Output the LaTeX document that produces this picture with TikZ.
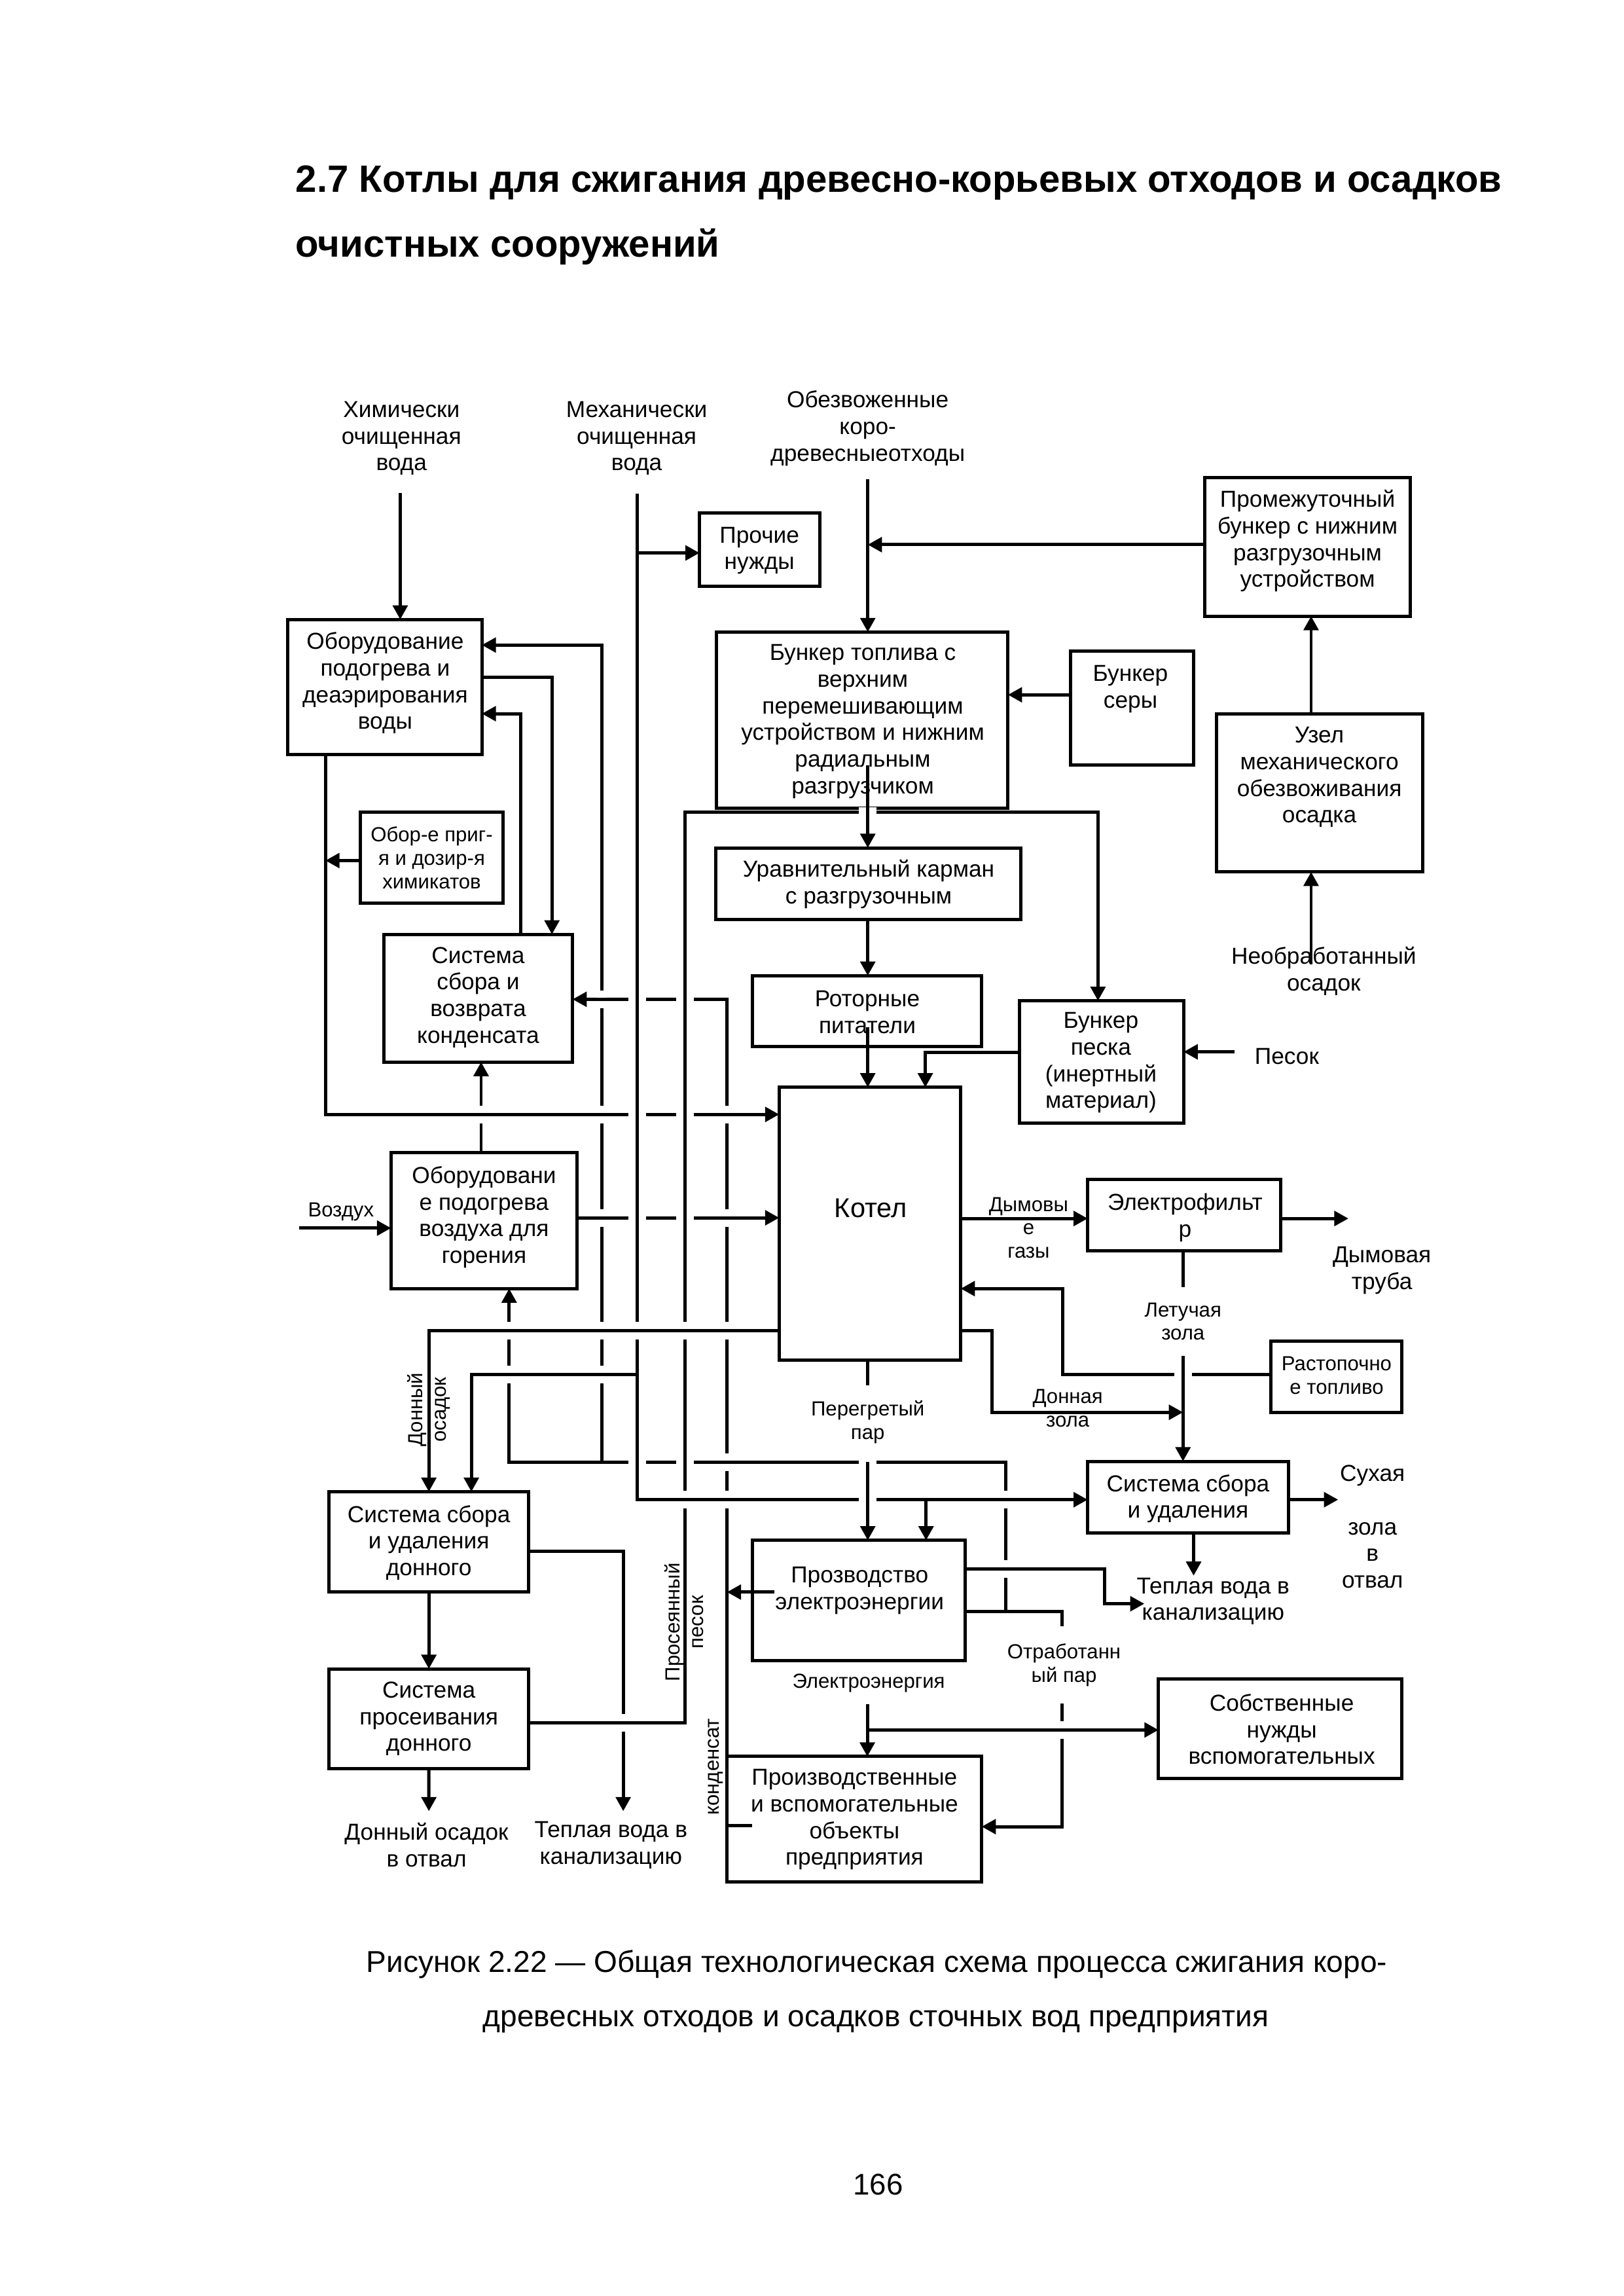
\documentclass[tikz,border=0pt]{standalone}
\usepackage{fontspec}
\setmainfont{Liberation Sans}
\usetikzlibrary{arrows.meta}
\newcommand{\gapv}[2]{%
  \fill[white] ({#1-3},{#2-6}) rectangle ({#1+3},{#2+6});
  \draw[ln] ({#1-7},#2) -- ({#1+7},#2);}
\newcommand{\gaph}[2]{%
  \fill[white] ({#1-6},{#2-3}) rectangle ({#1+6},{#2+3});
  \draw[ln] (#1,{#2-7}) -- (#1,{#2+7});}
\newcommand{\mkbox}[5]{%
  \node[box, minimum width={(#4-#2)*0.190909mm}, minimum height={(#5-#3)*0.190909mm}] (#1) at ({(#2+#4)/2},{(#3+#5)/2}) {};}
\begin{document}
\begin{tikzpicture}[x=0.190909mm, y=-0.190909mm,
  ln/.style={line width=1.2pt},
  arr/.style={line width=1.2pt, -{Triangle[length=5.2pt,width=5.4pt]}},
  box/.style={draw, line width=1.2pt, inner sep=0pt, outer sep=0pt},
  bt/.style={font=\fontsize{8.5}{9.8}\selectfont, align=center, inner sep=0pt},
  st/.style={font=\fontsize{7.5}{8.6}\selectfont, align=center, inner sep=0pt},
  wl/.style={st, fill=white, inner xsep=1pt}]
\useasboundingbox (0,0) rectangle (1100,1555.5);
\fill[white] (0,0) rectangle (1100,1555.5);

% ---------- title ----------
\node[anchor=base west, inner sep=0pt, font=\bfseries\fontsize{14}{24}\selectfont] (title1) at (200,130) {2.7 Котлы для сжигания древесно-корьевых отходов и осадков};
\node[anchor=base west, inner sep=0pt, font=\bfseries\fontsize{14}{24}\selectfont] (title2) at (200,174) {очистных сооружений};

% ---------- boxes ----------
\mkbox{b1}{195}{419.7}{326.5}{511.3}
\mkbox{prochie}{474}{347.7}{555.6}{397.4}
\mkbox{promb}{816.4}{323.7}{955.5}{417.4}
\mkbox{fuelb}{485.4}{428.2}{683}{547.7}
\mkbox{sera}{725.4}{441.3}{808.6}{518.3}
\mkbox{uzel}{824.5}{483.6}{964}{590.7}
\mkbox{urav}{485}{574.4}{691.5}{623}
\mkbox{chem}{244}{550}{341}{612}
\mkbox{kond}{260}{633}{388}{719.5}
\mkbox{rotor}{510}{661}{665}{709}
\mkbox{sand}{690.7}{678}{802}{761}
\mkbox{kotel}{528}{736.6}{651}{921.5}
\mkbox{air}{265}{781}{391}{873}
\mkbox{efilter}{737}{799}{867.6}{847.5}
\mkbox{rast}{861}{908.5}{950}{956.8}
\mkbox{dry}{737}{990}{873}{1038.6}
\mkbox{donn}{222.9}{1010.6}{358.3}{1078.6}
\mkbox{pros}{222.9}{1130.6}{358.3}{1198}
\mkbox{power}{510}{1043.5}{654}{1125}
\mkbox{sobst}{785}{1137.3}{950}{1205}
\mkbox{proizv}{492.6}{1190}{665.2}{1275}

% ---------- box texts ----------
\node[bt] (b1-t) at (261,462.8) {Оборудование\\подогрева и\\деаэрирования\\воды};
\node[bt] (prochie-t) at (514.6,373) {Прочие\\нужды};
\node[bt] (promb-t) at (886,366.5) {Промежуточный\\бункер с нижним\\разгрузочным\\устройством};
\node[bt] (fuelb-t) at (584.6,488.8) {Бункер топлива с\\верхним\\перемешивающим\\устройством и нижним\\радиальным\\разгрузчиком};
\node[bt] (sera-t) at (766,466.7) {Бункер\\серы};
\node[bt] (uzel-t) at (894,526.6) {Узел\\механического\\обезвоживания\\осадка};
\node[bt] (urav-t) at (588.6,598.9) {Уравнительный карман\\с разгрузочным};
\node[st] (chem-t) at (292.5,581.1) {Обор-е приг-\\я и дозир-я\\химикатов};
\node[bt] (kond-t) at (324,675.7) {Система\\сбора и\\возврата\\конденсата};
\node[bt] (rotor-t) at (587.7,685.8) {Роторные\\питатели};
\node[bt] (sand-t) at (746,720) {Бункер\\песка\\(инертный\\материал)};
\node[inner sep=0pt, font=\fontsize{10}{12}\selectfont] (kotel-t) at (590,818.6) {Котел};
\node[bt] (air-t) at (328,824.6) {Оборудовани\\е подогрева\\воздуха для\\горения};
\node[bt] (efilter-t) at (803,824.8) {Электрофильт\\р};
\node[st] (rast-t) at (905.7,931.7) {Растопочно\\е топливо};
\node[bt] (dry-t) at (805,1015.4) {Система сбора\\и удаления};
\node[bt] (donn-t) at (290.6,1045.2) {Система сбора\\и удаления\\донного};
\node[bt] (pros-t) at (290.6,1164.5) {Система\\просеивания\\донного};
\node[bt] (power-t) at (582.5,1077.6) {Прозводство\\электроэнергии};
\node[bt] (sobst-t) at (868.5,1171.5) {Собственные\\нужды\\вспомогательных};
\node[bt] (proizv-t) at (579,1232.8) {Производственные\\и вспомогательные\\объекты\\предприятия};

% ---------- free labels ----------
\node[bt] (in-chem) at (272,297) {Химически\\очищенная\\вода};
\node[bt] (in-mech) at (431.4,297) {Механически\\очищенная\\вода};
\node[bt] (in-fuel) at (588,290.2) {Обезвоженные\\коро-\\древесныеотходы};
\node[bt] (in-neob) at (897,658) {Необработанный\\осадок};
\node[bt] (in-pesok) at (872,715.5) {Песок};
\node[st] (in-air) at (231,821) {Воздух};
\node[st] (l-gas) at (697,831.7) {Дымовы\\е\\газы};
\node[bt] (out-pipe) at (936.4,860.7) {Дымовая\\труба};
\node[st] (l-dzola) at (723.5,954) {Донная\\зола};
\node[bt] (out-dry) at (930,1034.4) {Сухая\\\mbox{}\\зола\\в\\отвал};
\node[bt] (out-warm2) at (822,1084.8) {Теплая вода в\\канализацию};
\node[st] (l-elen) at (588.6,1140.4) {Электроэнергия};
\node[st, rotate=90] (l-dosad) at (290.5,955) {Донный\\осадок};
\node[st, rotate=90] (l-prpes) at (463.5,1099) {Просеянный\\песок};
\node[st, rotate=90] (l-kond) at (484.8,1197) {конденсат};
\node[bt] (out-dosad) at (289,1250) {Донный осадок\\в отвал};
\node[bt] (out-warm1) at (414,1250) {Теплая вода в\\канализацию};

% ---------- coordinates ----------
\coordinate (chemtop) at (271.2,334);
\coordinate (mtop) at (431.6,334.4);
\coordinate (mpro) at (431.6,374.6);
\coordinate (m931) at (431.6,931);
\coordinate (mbot) at (431.6,1016);
\coordinate (m931l) at (319.4,931);
\coordinate (m627) at (627.5,1016);
\coordinate (ftop) at (588,324.8);
\coordinate (f369) at (588,369);
\coordinate (s470) at (0,470.7);
\coordinate (ux) at (888.4,0);
\coordinate (neob) at (888.4,653.4);
\coordinate (f518) at (588,518.7);
\coordinate (f696) at (588,696);
\coordinate (p1) at (464,1167);
\coordinate (p2) at (464,550);
\coordinate (p3) at (744,550);
\coordinate (pes) at (836.6,712.6);
\coordinate (s1) at (627,713);
\coordinate (l1) at (220.5,755);
\coordinate (l583) at (220.5,583);
\coordinate (k1) at (374,458.7);
\coordinate (k2) at (352.7,483.5);
\coordinate (c1) at (492.6,677);
\coordinate (c2) at (524.5,1078.6);
\coordinate (c3) at (509.7,1237);
\coordinate (e1) at (719.5,1091.6);
\coordinate (e2) at (719.5,1237.5);
\coordinate (e3) at (681.5,1091.6);
\coordinate (e4) at (681.5,990.5);
\coordinate (e5) at (345,990.5);
\coordinate (e6) at (407.7,990.5);
\coordinate (e7) at (407.7,437);
\coordinate (a1) at (326,0);
\coordinate (a2) at (202.5,832);
\coordinate (a3) at (0,825);
\coordinate (d1) at (290.6,901.5);
\coordinate (g1) at (0,825.5);
\coordinate (g2) at (913.7,825.5);
\coordinate (fa) at (801.6,0);
\coordinate (z1) at (672,901.5);
\coordinate (z2) at (672,956.8);
\coordinate (z3) at (801.6,956.8);
\coordinate (r1) at (720,931);
\coordinate (r2) at (720,873);
\coordinate (st1) at (588,0);
\coordinate (dr1) at (906.7,1016);
\coordinate (dr2) at (808.8,1067.5);
\coordinate (w1) at (748.3,1063);
\coordinate (w2) at (748.3,1086.5);
\coordinate (w3) at (775.4,1086.5);
\coordinate (el1) at (587.7,1154.4);
\coordinate (el2) at (587.7,1172);
\coordinate (dw1) at (422.3,1051);
\coordinate (dw2) at (422.3,1227);
\coordinate (pr1) at (290.6,1227);

% ---------- connectors ----------
\draw[arr] (chemtop) -- (chemtop |- b1.north);
\draw[arr] (mtop) -- (mbot) -- (dry.west |- mbot);
\draw[arr] (mpro) -- (prochie.west |- mpro);
\draw[arr] (m931) -- (m931l) -- (m931l |- donn.north);
\draw[arr] (m627) -- (m627 |- power.north);
\draw[arr] (ftop) -- (ftop |- fuelb.north);
\draw[arr] (promb.west |- f369) -- (f369);
\draw[arr] (sera.west |- s470) -- (fuelb.east |- s470);
\draw[arr] (uzel.north -| ux) -- (promb.south -| ux);
\draw[arr] (neob) -- (uzel.south -| neob);
\draw[arr] (f518) -- (urav.north -| f518);
\draw[arr] (urav.south -| f518) -- (rotor.north -| f518);
\draw[arr] (f696) -- (kotel.north -| f696);
\draw[arr] (pros.east |- p1) -- (p1) -- (p2) -- (p3) -- (p3 |- sand.north);
\draw[arr] (pes) -- (sand.east |- pes);
\draw[arr] (sand.west |- s1) -- (s1) -- (s1 |- kotel.north);
\draw[arr] (b1.south -| l1) -- (l1) -- (kotel.west |- l1);
\draw[arr] (chem.west |- l583) -- (l583);
\draw[arr] (b1.east |- k1) -- (k1) -- (k1 |- kond.north);
\draw[arr] (kond.north -| k2) -- (k2) -- (b1.east |- k2);
\draw[arr] (proizv.north west) -- (c1) -- (kond.east |- c1);
\draw[arr] (c2) -- (c1 |- c2);
\draw[ln] (proizv.west |- c3) -- (c3);
\draw[arr] (power.east |- e1) -- (e1) -- (e2) -- (proizv.east |- e2);
\draw[arr] (e3) -- (e4) -- (e5) -- (e5 |- air.south);
\draw[arr] (e6) -- (e7) -- (b1.east |- e7);
\draw[arr] (air.north -| a1) -- (kond.south -| a1);
\draw[arr] (a2) -- (air.west |- a2);
\draw[arr] (air.east |- a3) -- (kotel.west |- a3);
\draw[arr] (kotel.west |- d1) -- (d1) -- (d1 |- donn.north);
\draw[arr] (kotel.east |- g1) -- (efilter.west |- g1);
\draw[arr] (efilter.east |- g1) -- (g2);
\draw[arr] (efilter.south -| fa) -- (dry.north -| fa);
\draw[arr] (kotel.east |- z1) -- (z1) -- (z2) -- (z3);
\draw[arr] (rast.west |- r1) -- (r1) -- (r2) -- (kotel.east |- r2);
\draw[arr] (kotel.south -| st1) -- (power.north -| st1);
\draw[arr] (dry.east |- dr1) -- (dr1);
\draw[arr] (dry.south -| dr2) -- (dr2);
\draw[arr] (power.east |- w1) -- (w1) -- (w2) -- (w3);
\draw[arr] (el1) -- (proizv.north -| el1);
\draw[arr] (el2) -- (sobst.west |- el2);
\draw[arr] (donn.east |- dw1) -- (dw1) -- (dw2);
\draw[arr] (donn.south) -- (pros.north);
\draw[arr] (pros.south) -- (pr1);

% ---------- labels that interrupt lines ----------
\node[wl, minimum height={46.6*0.190909mm}] (l-fly) at (801.6,895.3) {Летучая\\зола};
\node[wl, minimum height={50*0.190909mm}] (l-steam) at (588,963.5) {Перегретый\\пар};
\node[wl, minimum height={52.2*0.190909mm}] (l-exh) at (721,1127.9) {Отработанн\\ый пар};

% ---------- line crossings (gaps) ----------
\gapv{407.7}{677} \gaph{431.6}{677} \gaph{464}{677}
\gapv{326}{755} \gapv{407.7}{755} \gaph{431.6}{755} \gaph{464}{755} \gapv{492.6}{755}
\gapv{407.7}{825} \gaph{431.6}{825} \gaph{464}{825} \gapv{492.6}{825}
\gapv{345}{901.5} \gapv{407.7}{901.5} \gapv{431.6}{901.5} \gapv{464}{901.5} \gapv{492.6}{901.5}
\gapv{345}{931} \gapv{407.7}{931}
\gaph{431.6}{990.5} \gaph{464}{990.5} \gapv{492.6}{990.5}
\fill[white] (582,987.5) rectangle (594,993.5);
\draw[ln] (588,990.5) -- (588,997.5);
\gapv{464}{1016} \gapv{492.6}{1016} \gaph{588}{1016} \gapv{681.5}{1016}
\gaph{588}{550}
\gapv{681.5}{1063}
\gapv{719.5}{1172}
\gapv{422.3}{1167}
\gaph{801.6}{931}

% ---------- caption ----------
\node[anchor=base, inner sep=0pt, font=\fontsize{11.1}{20}\selectfont] (cap1) at (594,1336) {Рисунок 2.22 — Общая технологическая схема процесса сжигания коро-};
\node[anchor=base, inner sep=0pt, font=\fontsize{11.1}{20}\selectfont] (cap2) at (593.5,1373) {древесных отходов и осадков сточных вод предприятия};
\node[anchor=base, inner sep=0pt, font=\fontsize{11}{13}\selectfont] (pagenum) at (595,1487) {166};
\end{tikzpicture}
\end{document}
